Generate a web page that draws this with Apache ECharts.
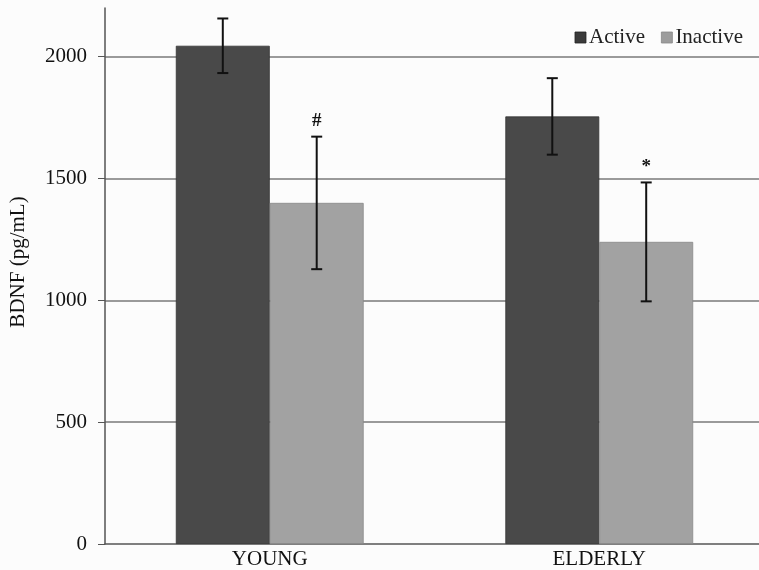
<!DOCTYPE html>
<html><head><meta charset="utf-8">
<script src="https://cdn.jsdelivr.net/npm/echarts@6/dist/echarts.min.js"></script>
<style>html,body{margin:0;padding:0;background:#fcfcfc;overflow:hidden;width:759px;height:570px;}#c{width:766px;height:570px;}</style>
</head><body><div id="c"></div>
<script>
const categories = ['YOUNG', 'ELDERLY'];
const activeMean = [2045, 1755];
const activeErr = [112, 157];
const inactiveMean = [1400, 1240];
const inactiveErr = [272, 244];
const inactiveMarks = ['#', '*'];
const yTicks = [0, 500, 1000, 1500, 2000];

const GAP = 0.43;
const FONT = '"Liberation Serif", "Times New Roman", serif';

function errSeries(name, means, errs, side, marks) {
  const data = means.map((m, i) => [i, m, errs[i], marks ? marks[i] : '']);
  return {
    type: 'custom', name: name + ' err', z: 10, silent: true,
    data: data,
    renderItem: function (params, api) {
      const i = api.value(0), m = api.value(1), e = api.value(2);
      const bw = api.size([1, 0])[0] * (1 - GAP) / 2;
      const c = api.coord([i, m]);
      const x = c[0] + side * bw / 2;
      const top = api.coord([i, m + e])[1];
      const bot = api.coord([i, m - e])[1];
      const cap = 5.5;
      const st = { stroke: '#111', lineWidth: 2 };
      const children = [
        { type: 'line', shape: { x1: x, y1: top, x2: x, y2: bot }, style: st },
        { type: 'line', shape: { x1: x - cap, y1: top, x2: x + cap, y2: top }, style: st },
        { type: 'line', shape: { x1: x - cap, y1: bot, x2: x + cap, y2: bot }, style: st }
      ];
      const mk = data[params.dataIndex][3];
      if (mk) children.push({ type: 'text', style: { text: mk, x: x, y: top - 6, align: 'center', verticalAlign: 'bottom', font: 'bold 19px ' + FONT, fill: '#111' } });
      return { type: 'group', children: children };
    }
  };
}

const chart = echarts.init(document.getElementById('c'));
chart.setOption({
  backgroundColor: '#fcfcfc',
  animation: false,
  grid: { left: 104, width: 660, top: 8, bottom: 26 },
  legend: {
    right: 18, top: 22, itemWidth: 11, itemHeight: 11, itemGap: 16,
    icon: 'rect',
    textStyle: { fontFamily: FONT, fontSize: 21, color: '#222', padding: [0, 0, 0, -2] },
    data: [
      { name: 'Active', itemStyle: { color: '#3a3a3a', borderColor: '#222', borderWidth: 0.8 } },
      { name: 'Inactive', itemStyle: { color: '#9c9c9c', borderColor: '#888', borderWidth: 0.8 } }
    ]
  },
  xAxis: {
    type: 'category', data: categories,
    axisLine: { lineStyle: { color: '#555', width: 1.5 } },
    axisTick: { show: false },
    axisLabel: { fontFamily: FONT, fontSize: 21, color: '#111', margin: 5 }
  },
  yAxis: {
    type: 'value', min: 0, max: 2200, interval: 500,
    name: 'BDNF (pg/mL)', nameLocation: 'middle', nameGap: 76, nameRotate: 90,
    nameTextStyle: { fontFamily: FONT, fontSize: 21, color: '#111', padding: [0, 0, 0, 28] },
    axisLine: { show: true, lineStyle: { color: '#555', width: 1.5 } },
    axisTick: { show: true, inside: false, length: 7, lineStyle: { color: '#555' } },
    axisLabel: { fontFamily: FONT, fontSize: 21, color: '#111', margin: 18, showMaxLabel: false,
      formatter: v => yTicks.indexOf(v) >= 0 ? String(v) : '' },
    splitLine: { show: true, lineStyle: { color: ['transparent', '#7a7a7a', '#7a7a7a', '#7a7a7a', '#7a7a7a', 'transparent'], width: 1.5 } }
  },
  series: [
    { name: 'Active', type: 'bar', data: activeMean, barGap: '0%', barCategoryGap: (GAP * 100) + '%',
      itemStyle: { color: '#494949', borderColor: '#333', borderWidth: 0.8 } },
    { name: 'Inactive', type: 'bar', data: inactiveMean, barGap: '0%', barCategoryGap: (GAP * 100) + '%',
      itemStyle: { color: '#a2a2a2', borderColor: '#888', borderWidth: 0.8 } },
    errSeries('Active', activeMean, activeErr, -1, null),
    errSeries('Inactive', inactiveMean, inactiveErr, 1, inactiveMarks)
  ]
});
</script></body></html>
